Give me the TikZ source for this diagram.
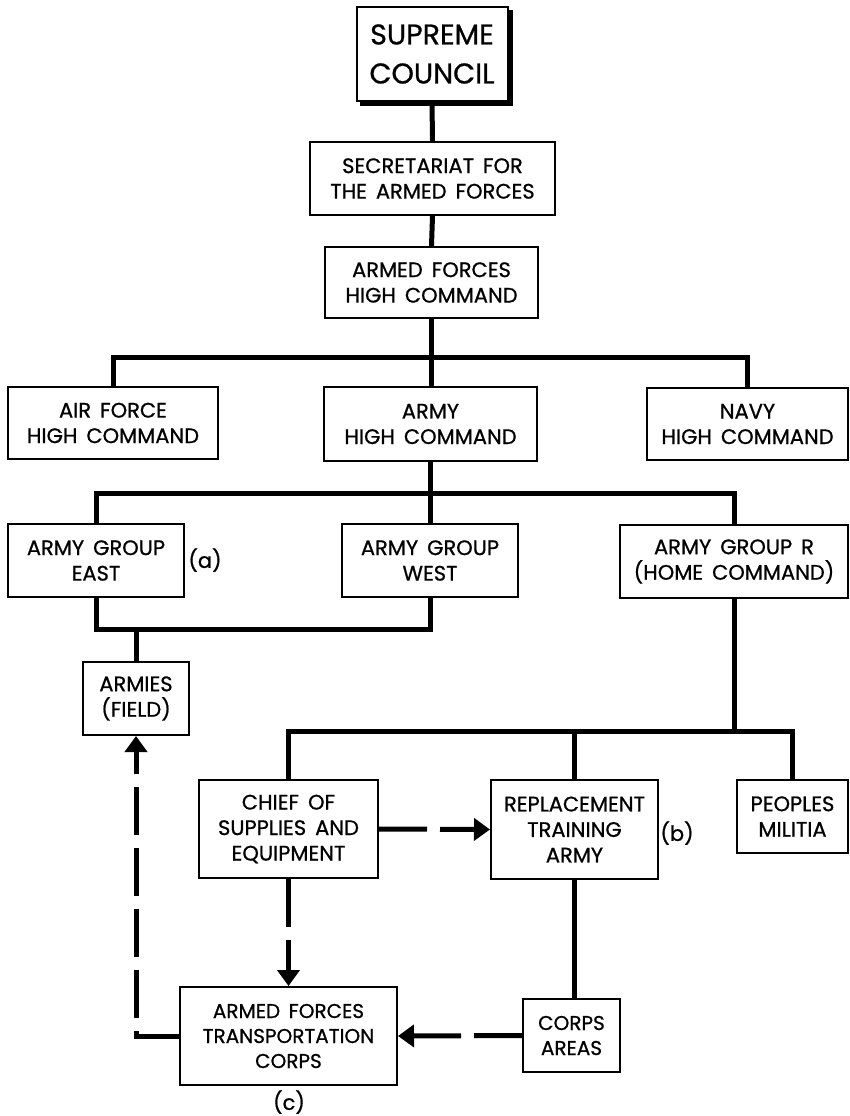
\documentclass[tikz,border=0pt]{standalone}
\usepackage{fontspec}
\setmainfont{Poppins}[FakeBold=0.8,WordSpace=1.6]
\usetikzlibrary{arrows.meta,calc}

\begin{document}
\begin{tikzpicture}[x=1pt,y=-1pt,
    box/.style={draw,line width=2pt,align=center,inner sep=0pt,font=\fontsize{21}{25.5}\selectfont},
    link/.style={line width=5pt},
    flow/.style={line width=5pt,dash pattern=on 48pt off 13pt,-{Triangle[width=22pt,length=16pt]}},
    note/.style={inner sep=0pt,font=\fontsize{21}{25.5}\selectfont}]
  \useasboundingbox (0,0) rectangle (850,1116);
  % levels of the bars
  \coordinate (b1) at (0,357);
  \coordinate (b2) at (0,493);
  \coordinate (b3) at (0,629);
  \coordinate (b4) at (0,731);
  % top
  \node[box,minimum width=151,minimum height=93,font=\fontsize{28.5}{39}\selectfont] (sc) at (432,54) {SUPREME\\COUNCIL};
  \draw[line width=5pt] ($(sc.north east)+(2,4)$) -- ($(sc.south east)+(2,2)$) -- ($(sc.south west)+(4,2)$);
  \node[box,minimum width=245,minimum height=73] (sec) at (432.5,178.5) {SECRETARIAT FOR\\THE ARMED FORCES};
  \node[box,minimum width=213,minimum height=71] (afhc) at (431.5,282.5) {ARMED FORCES\\HIGH COMMAND};
  % high commands
  \node[box,minimum width=210,minimum height=72] (af) at (113,423) {AIR FORCE\\HIGH COMMAND};
  \node[box,minimum width=213,minimum height=74] (ahc) at (430.5,424) {ARMY\\HIGH COMMAND};
  \node[box,minimum width=201,minimum height=72] (navy) at (747.5,424) {NAVY\\HIGH COMMAND};
  % army groups
  \node[box,minimum width=176,minimum height=73] (age) at (96,560.5) {ARMY GROUP\\EAST};
  \node[note] (la) at (205,560) {(a)};
  \node[box,minimum width=176,minimum height=73] (agw) at (430,560.5) {ARMY GROUP\\WEST};
  \node[box,minimum width=228,minimum height=73] (agr) at (734,561.5) {ARMY GROUP R\\(HOME COMMAND)};
  \node[box,minimum width=106,minimum height=73] (armies) at (136,698.5) {ARMIES\\(FIELD)};
  % home command
  \node[box,minimum width=179,minimum height=98] (chief) at (288.5,829) {CHIEF OF\\SUPPLIES AND\\EQUIPMENT};
  \node[box,minimum width=167,minimum height=99] (rta) at (574.5,829.5) {REPLACEMENT\\TRAINING\\ARMY};
  \node[note] (lb) at (677,833) {(b)};
  \node[box,minimum width=111,minimum height=73] (peoples) at (792.5,816.5) {PEOPLES\\MILITIA};
  \node[box,minimum width=217,minimum height=98,font=\fontsize{20}{25}\selectfont] (aftc) at (288.5,1036) {ARMED FORCES\\TRANSPORTATION\\CORPS};
  \node[note] (lc) at (289,1102) {(c)};
  \node[box,minimum width=97,minimum height=73,font=\fontsize{20}{25}\selectfont] (ca) at (571.5,1035.5) {CORPS\\AREAS};
  % solid lines
  \draw[link] (sc.south) -- (sec.north);
  \draw[link] (sec.south) -- (afhc.north);
  \draw[link] (afhc.south) -- (afhc.south |- ahc.north);
  \draw[link] (af.north) -- (af.north |- b1) -- (navy.north |- b1) -- (navy.north);
  \draw[link] (ahc.south) -- (ahc.south |- agw.north);
  \draw[link] (age.north) -- (age.north |- b2) -- (agr.north |- b2) -- (agr.north);
  \draw[link] (age.south) -- (age.south |- b3) -- (agw.south |- b3) -- (agw.south);
  \draw[link] (armies.north) -- (armies.north |- b3);
  \draw[link] (agr.south) -- (agr.south |- b4);
  \draw[link] (chief.north) -- (chief.north |- b4) -- (peoples.north |- b4) -- (peoples.north);
  \draw[link] (rta.north) -- (rta.north |- b4);
  \draw[link] (rta.south) -- (rta.south |- ca.north);
  % dashed arrows
  \draw[flow] (chief.east) -- (rta.west);
  \draw[flow] (chief.south) -- (chief.south |- aftc.north);
  \draw[flow] (ca.west) -- (aftc.east);
  \draw[flow] (aftc.west) -| (armies.south);
\end{tikzpicture}
\end{document}
